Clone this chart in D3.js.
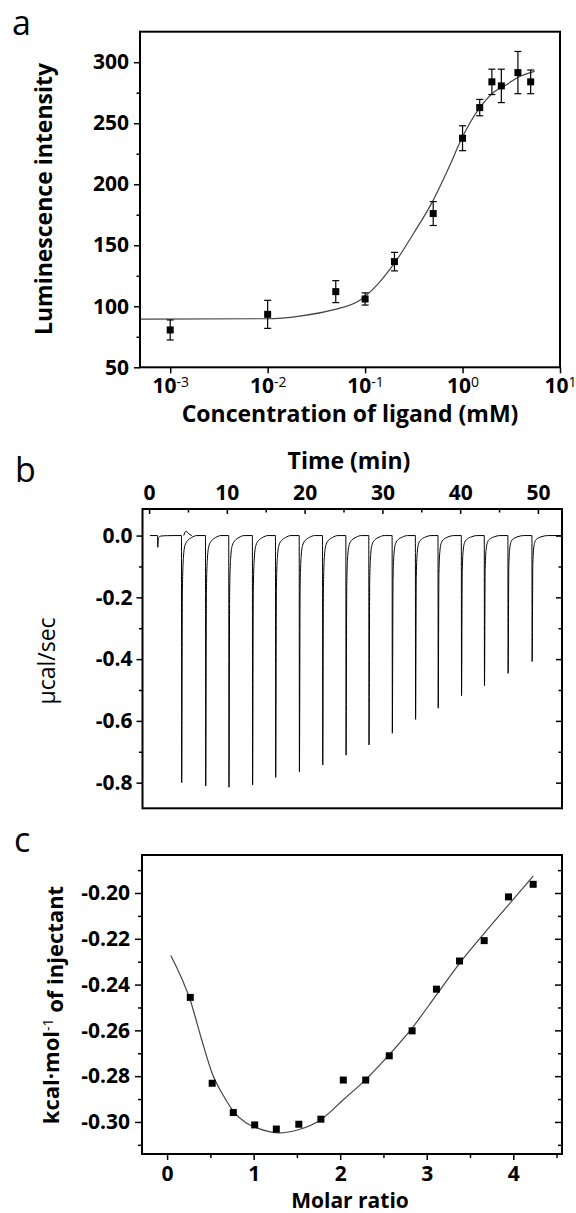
<!DOCTYPE html>
<html>
<head>
  <meta charset="utf-8" />
  <title>Ligand binding</title>
  <style>
    body { margin: 0; background: #fff; }
    svg { display: block; font-family: "Open Sans", sans-serif; }
    .tick text { font-size: 21px; font-weight: bold; fill: #000; font-family: "Open Sans", sans-serif; }
    .domain { display: none; }
    .tick line { stroke: #000; stroke-width: 1.5px; }
    .frame { fill: none; stroke: #000; stroke-width: 2px; }
    .title { font-size: 23px; font-weight: bold; }
    .panel { font-size: 34px; }
    .fit { fill: none; stroke: #444; stroke-width: 1.2px; }
    .trace { fill: none; stroke: #000; stroke-width: 1px; }
    .dot { fill: #000; }
    .err { stroke: #000; stroke-width: 1.2px; }
  </style>
  <script src="https://cdnjs.cloudflare.com/ajax/libs/d3/7.8.5/d3.min.js"></script>
</head>
<body>
  <div id="chart"></div>
  <script>
    // ---- panel a: luminescence vs ligand concentration ----
    var concA = [0.001, 0.01, 0.05, 0.1, 0.2, 0.5, 1, 1.5, 2, 2.5, 3.7, 5];
    var lumA = [80.6, 93.4, 112.0, 106.0, 136.6, 176.0, 237.7, 262.8, 283.9, 280.6, 291.5, 283.9];
    var errA = [8.2, 11.5, 9, 5, 7.6, 9.8, 10.2, 6.7, 10.4, 13.7, 17.3, 9.7];
    var fitConcA = [0.00049, 0.01, 0.0214, 0.0468, 0.0891, 0.138, 0.211, 0.316, 0.501, 0.708, 1.0, 1.479, 2.138, 2.818, 3.715, 5.495];
    var fitLumA = [89.5, 89.8, 92.0, 97.0, 105.2, 119, 138, 160, 187, 212, 239, 262, 276, 281.5, 287.7, 292.5];
    var yTicksA = [50, 100, 150, 200, 250, 300];
    var yMinorA = [75, 125, 175, 225, 275];
    var xExpA = [-3, -2, -1, 0, 1];

    // ---- panel b: raw ITC trace ----
    var injTime = [1.08, 4.16, 7.25, 10.24, 13.28, 16.25, 19.3, 22.3, 25.3, 28.25, 31.25, 34.24, 37.15, 40.15, 43.1, 46.14, 49.23];
    var injMin = [-0.038, -0.800, -0.811, -0.815, -0.807, -0.783, -0.765, -0.743, -0.711, -0.678, -0.640, -0.595, -0.559, -0.519, -0.486, -0.446, -0.408];
    var tailDt = [0, 0.03, 0.12, 0.25, 0.45, 0.8, 1.3, 2.0];
    var tailFrac = [0, 1, 0.22, 0.09, 0.04, 0.02, 0.008, 0];
    var bumpTime = [4.45, 4.75, 5.05, 5.5];
    var bumpVal = [0, 0.014, 0.007, 0];
    var xTicksB = [0, 10, 20, 30, 40, 50];
    var xMinorB = [5, 15, 25, 35, 45];
    var yTicksB = [0, -0.2, -0.4, -0.6, -0.8];
    var yMinorB = [-0.1, -0.3, -0.5, -0.7];

    // ---- panel c: integrated heats ----
    var ratioC = [0.268, 0.521, 0.765, 1.012, 1.262, 1.522, 1.777, 2.036, 2.295, 2.567, 2.831, 3.112, 3.379, 3.664, 3.945, 4.230];
    var heatC = [-0.2456, -0.2831, -0.2959, -0.3013, -0.3031, -0.3010, -0.2988, -0.2817, -0.2817, -0.2711, -0.2602, -0.2420, -0.2297, -0.2208, -0.2017, -0.1962];
    var fitRatioC = [0.043, 0.272, 0.40, 0.519, 0.655, 0.765, 0.91, 1.037, 1.292, 1.526, 1.777, 2.036, 2.295, 2.567, 2.831, 3.112, 3.379, 3.664, 3.945, 4.23];
    var fitHeatC = [-0.2273, -0.2474, -0.2641, -0.2786, -0.2888, -0.2953, -0.3004, -0.3026, -0.3048, -0.3033, -0.2990, -0.2903, -0.2815, -0.2706, -0.2590, -0.2445, -0.2307, -0.2176, -0.2052, -0.1926];
    var yTicksC = [-0.30, -0.28, -0.26, -0.24, -0.22, -0.20];
    var yMinorC = [-0.31, -0.29, -0.27, -0.25, -0.23, -0.21, -0.19];
    var xTicksC = [0, 1, 2, 3, 4];
    var xMinorC = [0.5, 1.5, 2.5, 3.5, 4.5];

    var svg = d3.select('#chart').append('svg')
      .attr('width', 576)
      .attr('height', 1213);

    function dash(fmt) {
      return function (d) { return d3.format(fmt)(d).replace('\u2212', '-'); };
    }

    function minor(axis, vals, size) {
      return axis.tickValues(vals).tickSize(size).tickFormat('');
    }

    function square(g, xs, ys, xScale, yScale) {
      g.selectAll('rect.dot')
        .data(xs)
        .enter()
        .append('rect')
        .attr('class', 'dot')
        .attr('x', (d, i) => xScale(d) - 3.5)
        .attr('y', (d, i) => yScale(ys[i]) - 3.5)
        .attr('width', 7)
        .attr('height', 7);
    }

    // ================= panel a =================
    var xA = d3.scaleLog().domain([Math.pow(10, -3.31), 10]).range([140, 560]);
    var yA = d3.scaleLinear().domain([50, 325]).range([367.3, 31.7]);

    svg.append('g').attr('transform', 'translate(140,0)')
      .call(d3.axisLeft(yA).tickValues(yTicksA).tickSize(6).tickPadding(5));
    svg.append('g').attr('transform', 'translate(140,0)')
      .call(minor(d3.axisLeft(yA), yMinorA, 3.5));

    var xAxisA = svg.append('g').attr('transform', 'translate(0,367.3)')
      .call(d3.axisBottom(xA).tickValues(xExpA.map(e => Math.pow(10, e))).tickSize(6).tickPadding(5).tickFormat(''));
    xAxisA.selectAll('.tick text')
      .each(function (d, i) {
        var t = d3.select(this);
        t.append('tspan').text('10');
        t.append('tspan').attr('dy', '-0.42em').style('font-size', '14px').style('font-weight', 'normal').text(xExpA[i]);
      });

    var fitLineA = d3.line()
      .x((d, i) => xA(fitConcA[i]))
      .y((d, i) => yA(fitLumA[i]))
      .curve(d3.curveMonotoneX);
    svg.append('path').attr('class', 'fit').attr('d', fitLineA(fitConcA));

    var errG = svg.append('g');
    concA.forEach(function (c, i) {
      var x = xA(c), y1 = yA(lumA[i] + errA[i]), y2 = yA(lumA[i] - errA[i]);
      errG.append('line').attr('class', 'err').attr('x1', x).attr('x2', x).attr('y1', y1).attr('y2', y2);
      errG.append('line').attr('class', 'err').attr('x1', x - 3.5).attr('x2', x + 3.5).attr('y1', y1).attr('y2', y1);
      errG.append('line').attr('class', 'err').attr('x1', x - 3.5).attr('x2', x + 3.5).attr('y1', y2).attr('y2', y2);
    });
    square(svg.append('g'), concA, lumA, xA, yA);

    svg.append('rect').attr('class', 'frame')
      .attr('x', 140).attr('y', 31.7).attr('width', 420).attr('height', 335.6);

    svg.append('text').attr('class', 'title')
      .attr('text-anchor', 'middle')
      .attr('transform', 'translate(52,199) rotate(-90)')
      .text('Luminescence intensity');
    svg.append('text').attr('class', 'title')
      .attr('text-anchor', 'middle')
      .attr('x', 350).attr('y', 422)
      .text('Concentration of ligand (mM)');
    svg.append('text').attr('class', 'panel').attr('x', 12).attr('y', 35).text('a');

    // ================= panel b =================
    var xB = d3.scaleLinear().domain([-0.85, 53.1]).range([142.5, 562]);
    var yB = d3.scaleLinear().domain([-0.883, 0.086]).range([808.3, 509]);

    svg.append('g').attr('transform', 'translate(0,509)')
      .call(d3.axisTop(xB).tickValues(xTicksB).tickSize(-5).tickPadding(9));
    svg.append('g').attr('transform', 'translate(0,509)')
      .call(minor(d3.axisTop(xB), xMinorB, -3.5));
    svg.append('g').attr('transform', 'translate(142.5,0)')
      .call(d3.axisLeft(yB).tickValues(yTicksB).tickSize(6).tickPadding(4).tickFormat(dash('.1f')));
    svg.append('g').attr('transform', 'translate(142.5,0)')
      .call(minor(d3.axisLeft(yB), yMinorB, 3.5));
    svg.append('g').attr('transform', 'translate(562,0)')
      .call(minor(d3.axisRight(yB), yTicksB, -6));
    svg.append('g').attr('transform', 'translate(562,0)')
      .call(minor(d3.axisRight(yB), yMinorB, -3.5));

    // trace: baseline plus one spike per injection
    var trace = [[0.1, 0]];
    injTime.forEach(function (t, i) {
      tailDt.forEach(function (dt, j) {
        trace.push([t + dt, injMin[i] * tailFrac[j]]);
      });
    });
    trace.push([53.1, 0]);

    var traceLine = d3.line()
      .x(d => xB(d[0]))
      .y(d => yB(d[1]))
      .curve(d3.curveMonotoneX);
    svg.append('path').attr('class', 'trace').attr('d', traceLine(trace));
    svg.append('path').attr('class', 'trace')
      .attr('d', traceLine(bumpTime.map((t, i) => [t, bumpVal[i]])));

    svg.append('rect').attr('class', 'frame')
      .attr('x', 142.5).attr('y', 509).attr('width', 419.5).attr('height', 299.3);

    svg.append('text').attr('class', 'title')
      .attr('text-anchor', 'middle')
      .attr('x', 349).attr('y', 469)
      .text('Time (min)');
    svg.append('text')
      .attr('text-anchor', 'middle')
      .attr('transform', 'translate(55,661) rotate(-90)')
      .style('font-size', '23px')
      .text('\u00b5cal/sec');
    svg.append('text').attr('class', 'panel').attr('x', 15).attr('y', 482).text('b');

    // ================= panel c =================
    var xC = d3.scaleLinear().domain([-0.29, 4.563]).range([142, 562]);
    var yC = d3.scaleLinear().domain([-0.314, -0.1834]).range([1154, 855]);

    svg.append('g').attr('transform', 'translate(142,0)')
      .call(d3.axisLeft(yC).tickValues(yTicksC).tickSize(7).tickPadding(5).tickFormat(dash('.2f')));
    svg.append('g').attr('transform', 'translate(142,0)')
      .call(minor(d3.axisLeft(yC), yMinorC, 4));
    svg.append('g').attr('transform', 'translate(562,0)')
      .call(minor(d3.axisRight(yC), yTicksC, -7));
    svg.append('g').attr('transform', 'translate(562,0)')
      .call(minor(d3.axisRight(yC), yMinorC, -4));
    svg.append('g').attr('transform', 'translate(0,1154)')
      .call(d3.axisBottom(xC).tickValues(xTicksC).tickSize(6).tickPadding(6).tickFormat(d3.format('d')));
    svg.append('g').attr('transform', 'translate(0,1154)')
      .call(minor(d3.axisBottom(xC), xMinorC, 4));

    var fitLineC = d3.line()
      .x((d, i) => xC(fitRatioC[i]))
      .y((d, i) => yC(fitHeatC[i]))
      .curve(d3.curveMonotoneX);
    svg.append('path').attr('class', 'fit').attr('d', fitLineC(fitRatioC));
    square(svg.append('g'), ratioC, heatC, xC, yC);

    svg.append('rect').attr('class', 'frame')
      .attr('x', 142).attr('y', 855).attr('width', 420).attr('height', 299);

    var yTitleC = svg.append('text').attr('class', 'title')
      .attr('text-anchor', 'middle')
      .style('font-size', '22px')
      .attr('transform', 'translate(59,1005) rotate(-90)');
    yTitleC.append('tspan').text('kcal\u00b7mol');
    yTitleC.append('tspan').attr('dy', '-0.45em').style('font-size', '14px').style('font-weight', 'normal').text('-1');
    yTitleC.append('tspan').attr('dy', '0.45em').text(' of injectant');
    svg.append('text').attr('class', 'title')
      .attr('text-anchor', 'middle')
      .style('font-size', '21px')
      .attr('x', 350).attr('y', 1208)
      .text('Molar ratio');
    svg.append('text').attr('class', 'panel').attr('x', 14).attr('y', 852).text('c');
  </script>
</body>
</html>
